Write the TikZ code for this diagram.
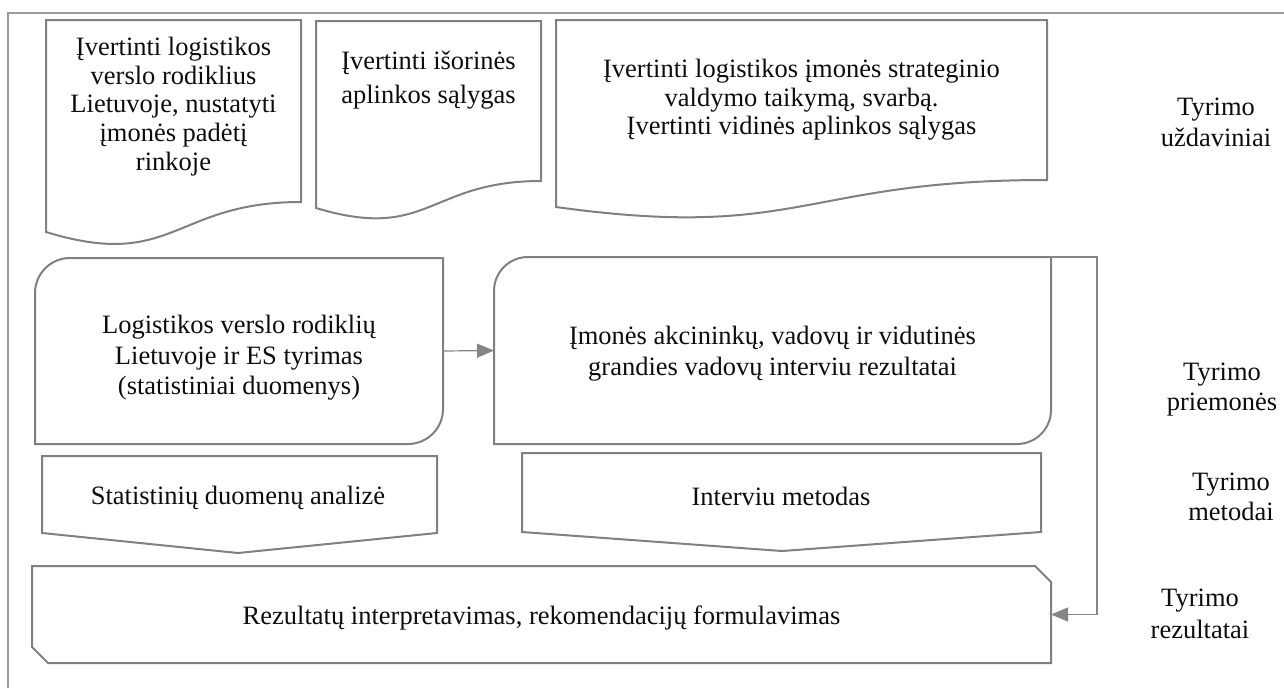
\documentclass[tikz,border=0pt]{standalone}
\usepackage{fontspec}
\setmainfont{Liberation Serif}
\usetikzlibrary{arrows.meta,calc}
\definecolor{edgegray}{HTML}{808080}
\definecolor{framegray}{HTML}{9A9A9A}
\definecolor{linkgray}{HTML}{858585}
\definecolor{inkblack}{HTML}{0D0D0D}
\tikzset{
  outline/.style={draw=edgegray, line width=2pt, line join=miter},
  holder/.style={draw=none, inner sep=0pt, outer sep=0pt},
  txt/.style={inner sep=0pt, align=center, text=inkblack,
    font=\fontsize{26.5pt}{#1}\selectfont},
  txt/.default={29pt},
  link/.style={draw=linkgray, line width=1.2pt},
  tip/.style={-{Triangle[length=17pt,width=14pt]}}
}
\begin{document}
\begin{tikzpicture}[x=1pt,y=-1pt]
\useasboundingbox (0,0) rectangle (1284,688);

% outer frame (left and top edges)
\draw[framegray, line width=1.5pt] (8,688) -- (8,13) -- (1284,13);

% --- research tasks: document shapes ---
\draw[outline] (46,20) -- (301,20) -- (301,202)
  .. controls (173.5,202) and (173.5,271) .. (46,232) -- cycle;
\node[txt=28.8pt] (t1) at (173.5,106.5)
  {Įvertinti logistikos\\verslo rodiklius\\Lietuvoje, nustatyti\\įmonės padėtį\\rinkoje};

\draw[outline] (316,21) -- (541,21) -- (541,181)
  .. controls (428.5,181) and (428.5,242) .. (316,208) -- cycle;
\node[txt=34pt] (t2) at (428.5,80) {Įvertinti išorinės\\aplinkos sąlygas};

\draw[outline] (556,20) -- (1047,20) -- (1047,180)
  .. controls (801.5,180) and (801.5,241) .. (556,207) -- cycle;
\node[txt=28.5pt] (t3) at (801.5,100)
  {Įvertinti logistikos įmonės strateginio\\valdymo taikymą, svarbą.\\Įvertinti vidinės aplinkos sąlygas};

% --- research instruments: boxes with two rounded corners ---
\node[holder, minimum width=408pt, minimum height=186pt] (ra) at (239,351) {};
\draw[outline]
  ($(ra.north west)+(0,35)$) .. controls ($(ra.north west)+(0,15.7)$) and ($(ra.north west)+(15.7,0)$) .. ($(ra.north west)+(35,0)$)
  -- (ra.north east) -- ($(ra.south east)+(0,-35)$)
  .. controls ($(ra.south east)+(0,-15.7)$) and ($(ra.south east)+(-15.7,0)$) .. ($(ra.south east)+(-35,0)$)
  -- (ra.south west) -- cycle;
\node[txt=30.5pt] (ta) at ($(ra.center)+(0,7)$)
  {Logistikos verslo rodiklių\\Lietuvoje ir ES tyrimas\\(statistiniai duomenys)};

\node[holder, minimum width=557pt, minimum height=187pt] (rb) at (772.5,350.5) {};
\draw[outline]
  ($(rb.north west)+(0,34)$) .. controls ($(rb.north west)+(0,15.2)$) and ($(rb.north west)+(15.2,0)$) .. ($(rb.north west)+(34,0)$)
  -- (rb.north east) -- ($(rb.south east)+(0,-34)$)
  .. controls ($(rb.south east)+(0,-15.2)$) and ($(rb.south east)+(-15.2,0)$) .. ($(rb.south east)+(-34,0)$)
  -- (rb.south west) -- cycle;
\node[txt=31pt] (tb) at ($(rb.center)+(0,3)$)
  {Įmonės akcininkų, vadovų ir vidutinės\\grandies vadovų interviu rezultatai};

% --- research methods: pentagon arrows ---
\draw[outline] (42,456) -- (437,456) -- (437,533) -- (238,553) -- (42,533) -- cycle;
\node[txt] (ma) at (238,498) {Statistinių duomenų analizė};

\draw[outline] (522,453) -- (1041,453) -- (1041,532) -- (782,551) -- (522,532) -- cycle;
\node[txt] (mb) at (781,496) {Interviu metodas};

% --- research results: snipped rectangle ---
\node[holder, minimum width=1019pt, minimum height=97pt] (res) at (541.5,614.5) {};
\draw[outline] (res.north west) -- ($(res.north east)+(-16,0)$) -- ($(res.north east)+(0,16)$)
  -- (res.south east) -- ($(res.south west)+(16,0)$) -- ($(res.south west)+(0,-16)$) -- cycle;
\node[txt] (tr) at ($(res.center)+(0,3)$)
  {Rezultatų interpretavimas, rekomendacijų formulavimas};

% --- connectors ---
\draw[link, tip] (ra.east) -- (rb.west);
\coordinate (turn) at ($(rb.north east)+(46,0)$);
\draw[link, tip] (rb.north east) -- (turn) |- (res.east);

% --- row labels ---
\node[txt=31pt] (l1) at (1216,122) {Tyrimo\\uždaviniai};
\node[txt=30pt] (l2) at (1222,390) {Tyrimo\\priemonės};
\node[txt=30pt] (l3) at (1231,497) {Tyrimo\\metodai};
\node[txt=32pt] (l4) at (1200,614) {Tyrimo\\rezultatai};
\end{tikzpicture}
\end{document}
